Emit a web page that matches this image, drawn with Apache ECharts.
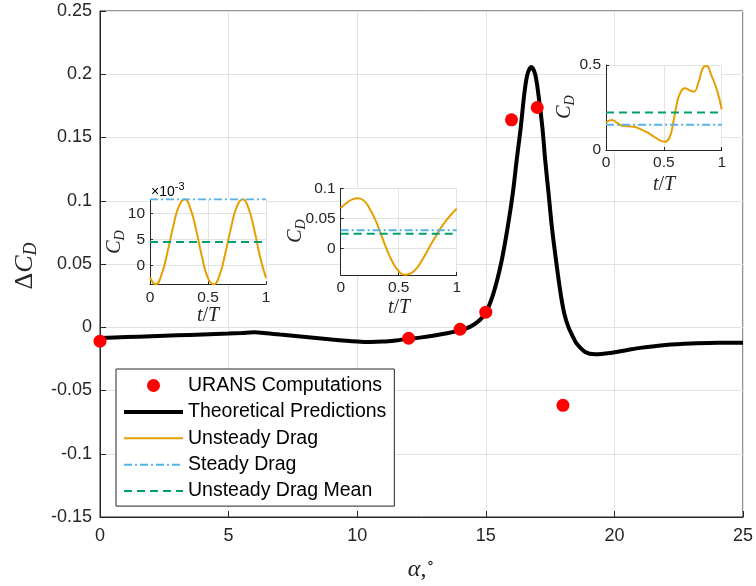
<!DOCTYPE html>
<html><head><meta charset="utf-8">
<script src="https://cdn.jsdelivr.net/npm/echarts@6/dist/echarts.min.js"></script>
<style>html,body{margin:0;padding:0;background:#fff}#c{width:756px;height:586px}</style>
</head><body><div id="c"></div>
<script>
// ---------- main chart data ----------
const uransAlpha = [0, 12, 14, 15, 16, 17, 18];
const uransDeltaCD = [-0.011, -0.0087, -0.0016, 0.0119, 0.164, 0.1737, -0.0617];

const theoryAlpha = [0, 1, 2, 3, 4, 5, 5.5, 6, 6.5, 7, 8, 9, 10, 10.5, 11, 11.5, 12, 12.5, 13, 13.5, 14, 14.4, 14.7,
  15.0, 15.3, 15.6, 15.85, 16.05, 16.2, 16.36, 16.5, 16.62, 16.77, 16.92, 17.04, 17.2, 17.31, 17.44, 17.57, 17.73,
  17.91, 18.05, 18.21, 18.4, 18.53, 18.86, 19.25, 19.83, 20.5, 21, 22, 23, 24, 25];
const theoryDeltaCD = [-0.0085, -0.0078, -0.0071, -0.0064, -0.0057, -0.005, -0.0046, -0.004, -0.0048, -0.0058, -0.0077,
  -0.0096, -0.0112, -0.0116, -0.0113, -0.0104, -0.0092, -0.008, -0.0065, -0.0047, -0.0025, 0.0005, 0.0045,
  0.0115, 0.027, 0.051, 0.079, 0.106, 0.132, 0.158, 0.185, 0.2, 0.2058, 0.2, 0.185, 0.158, 0.132, 0.106, 0.079, 0.053,
  0.0266, 0.011, 0.0003, -0.008, -0.0129, -0.0195, -0.0213, -0.0203, -0.018, -0.0163, -0.014, -0.0128, -0.0123, -0.0122];

// ---------- inset 1 (x10^-3) ----------
const inset1T = [0, 0.05, 0.1, 0.15, 0.2, 0.25, 0.3, 0.35, 0.4, 0.45, 0.5, 0.55, 0.6, 0.65, 0.7, 0.75, 0.8, 0.85, 0.9, 0.95, 1];
const inset1CD = [-0.0023, -0.0036, -0.0017, 0.0025, 0.0075, 0.0114, 0.0127, 0.0108, 0.0066, 0.0015, -0.0024, -0.0036,
  -0.0018, 0.0024, 0.0074, 0.0114, 0.0127, 0.0109, 0.0067, 0.0016, -0.0024];
const inset1Steady = 0.0127;
const inset1Mean = 0.0045;

// ---------- inset 2 ----------
const inset2T = [0, 0.05, 0.1, 0.15, 0.2, 0.25, 0.3, 0.35, 0.4, 0.45, 0.5, 0.55, 0.6, 0.65, 0.7, 0.75, 0.8, 0.85, 0.9, 0.95, 1];
const inset2CD = [0.067, 0.0755, 0.0815, 0.0835, 0.0795, 0.066, 0.047, 0.022, -0.003, -0.024, -0.038, -0.044, -0.042,
  -0.034, -0.02, -0.003, 0.014, 0.03, 0.044, 0.056, 0.066];
const inset2Steady = 0.030;
const inset2Mean = 0.0244;

// ---------- inset 3 ----------
const inset3T = [0, 0.05, 0.1, 0.15, 0.24, 0.3, 0.35, 0.4, 0.47, 0.51, 0.55, 0.58, 0.61, 0.64, 0.68, 0.73, 0.76, 0.8,
  0.84, 0.87, 0.91, 0.96, 1];
const inset3CD = [0.161, 0.176, 0.158, 0.141, 0.137, 0.122, 0.106, 0.085, 0.055, 0.049, 0.075, 0.157, 0.265, 0.333,
  0.363, 0.349, 0.343, 0.4, 0.485, 0.494, 0.44, 0.35, 0.239];
const inset3Steady = 0.149;
const inset3Mean = 0.22;

// ---------- ticks ----------
const inset1YTicks = [0, 0.005, 0.01];
const inset2YTicks = [0, 0.05, 0.1];

const INK = '#262626', GRIDC = '#e2e2e2';
const ORANGE = '#E69F00', SKY = '#56B4E9', GREEN = '#009E73';
const SANS = 'Liberation Sans, Arial, Helvetica, sans-serif';
const SERIF = 'Liberation Serif, DejaVu Serif, serif';
const DASH = [8, 5], DASHDOT = [8, 3, 2, 3];

const zip = (a, b) => a.map((v, i) => [v, b[i]]);
const hline = v => [[0, v], [1, v]];

const insetGrids = [
  {left: 150, top: 199.3, width: 116, height: 85},
  {left: 340.7, top: 188.3, width: 116, height: 86.7},
  {left: 606, top: 65, width: 115.7, height: 85}
];

function insetX(i) {
  return {gridIndex: i, type: 'value', min: 0, max: 1, interval: 0.5, z: 4,
    axisLine: {show: true, onZero: false, lineStyle: {color: INK}},
    axisTick: {show: true, inside: true, length: 3, lineStyle: {color: INK}},
    axisLabel: {fontSize: 15.5, color: INK, fontFamily: SANS, margin: 5},
    splitLine: {show: true, lineStyle: {color: GRIDC}}};
}
function insetY(i, min, max, ticks, fmt) {
  const ax = {gridIndex: i, type: 'value', min: min, max: max, z: 4,
    axisLine: {show: true, onZero: false, lineStyle: {color: INK}},
    axisTick: {show: true, inside: true, length: 3, lineStyle: {color: INK}},
    axisLabel: {fontSize: 15.5, color: INK, fontFamily: SANS, margin: 5},
    splitLine: {show: true, lineStyle: {color: GRIDC}}};
  if (ticks) {
    ax.axisLabel.customValues = ticks;
    ax.axisTick.customValues = ticks;
  } else {
    ax.interval = 0.5;
  }
  if (fmt) ax.axisLabel.formatter = fmt;
  return ax;
}

function insetSeries(i, t, cd, steady, mean) {
  return [
    {name: 'Unsteady Drag', type: 'line', xAxisIndex: i, yAxisIndex: i, data: zip(t, cd), smooth: 0.5,
      symbol: 'none', z: 6, lineStyle: {color: ORANGE, width: 2}, itemStyle: {color: ORANGE}, silent: true},
    {name: 'Steady Drag', type: 'line', xAxisIndex: i, yAxisIndex: i, data: hline(steady),
      symbol: 'none', z: 6, lineStyle: {color: SKY, width: 2, type: DASHDOT}, itemStyle: {color: SKY}, silent: true},
    {name: 'Unsteady Drag Mean', type: 'line', xAxisIndex: i, yAxisIndex: i, data: hline(mean),
      symbol: 'none', z: 6, lineStyle: {color: GREEN, width: 2, type: DASH}, itemStyle: {color: GREEN}, silent: true}
  ];
}

function txt(x, y, text, rich, rot) {
  return {type: 'text', x: x, y: y, rotation: rot || 0, z: 20,
    style: {text: text, rich: rich, align: 'center', verticalAlign: 'middle', fill: INK}};
}
const cdRich = size => ({
  c: {fontFamily: SERIF, fontStyle: 'italic', fontSize: size, lineHeight: size + 4, color: INK, verticalAlign: 'middle'},
  s: {fontFamily: SERIF, fontStyle: 'italic', fontSize: Math.round(size * 0.7), lineHeight: Math.round(size * 0.5), color: INK, verticalAlign: 'bottom'}
});
const tRich = {t: {fontFamily: SERIF, fontStyle: 'italic', fontSize: 20, color: INK},
  n: {fontFamily: SERIF, fontSize: 20, color: INK}};

const noSym = {color: 'rgba(0,0,0,0)', borderColor: 'rgba(0,0,0,0)', borderWidth: 0, opacity: 0};

const chart = echarts.init(document.getElementById('c'), null, {renderer: 'canvas'});
chart.setOption({
  animation: false,
  backgroundColor: '#fff',
  grid: [
    {left: 100, top: 11, width: 643, height: 506, show: true, borderColor: INK, borderWidth: 1, backgroundColor: 'transparent', z: 0},
    ...insetGrids.map(g => Object.assign({show: true, backgroundColor: '#fff', borderWidth: 0, z: 3}, g))
  ],
  xAxis: [
    {gridIndex: 0, type: 'value', min: 0, max: 25, interval: 5,
      axisLine: {show: true, onZero: false, lineStyle: {color: INK}},
      axisTick: {show: true, inside: true, length: 6, lineStyle: {color: INK}},
      axisLabel: {fontSize: 18, color: INK, fontFamily: SANS, margin: 10},
      splitLine: {show: true, lineStyle: {color: GRIDC}}},
    insetX(1), insetX(2), insetX(3)
  ],
  yAxis: [
    {gridIndex: 0, type: 'value', min: -0.15, max: 0.25, interval: 0.05,
      axisLine: {show: true, onZero: false, lineStyle: {color: INK}},
      axisTick: {show: true, inside: true, length: 6, lineStyle: {color: INK}},
      axisLabel: {fontSize: 18, color: INK, fontFamily: SANS, margin: 8},
      splitLine: {show: true, lineStyle: {color: GRIDC}}},
    insetY(1, -0.0036, 0.0127, inset1YTicks, v => String(Math.round(v * 1000))),
    insetY(2, -0.0443, 0.1, inset2YTicks),
    insetY(3, 0, 0.5, null)
  ],
  legend: {
    show: true, orient: 'vertical', left: 116, top: 369, selectedMode: false,
    padding: [6.5, 8, 5, 6], itemWidth: 59, itemHeight: 13, itemGap: 6.4,
    backgroundColor: '#fff', borderColor: INK, borderWidth: 1, z: 10,
    textStyle: {fontSize: 19.5, fontFamily: SANS, color: '#000', lineHeight: 19.2},
    lineStyle: {width: 'inherit'},
    data: [
      {name: 'URANS Computations', icon: 'circle'},
      {name: 'Theoretical Predictions', itemStyle: noSym},
      {name: 'Unsteady Drag', itemStyle: noSym},
      {name: 'Steady Drag', itemStyle: noSym},
      {name: 'Unsteady Drag Mean', itemStyle: noSym}
    ]
  },
  series: [
    {name: 'URANS Computations', type: 'scatter', xAxisIndex: 0, yAxisIndex: 0, data: zip(uransAlpha, uransDeltaCD),
      symbol: 'circle', symbolSize: 13, z: 3, itemStyle: {color: '#ff0000', opacity: 1}, silent: true},
    {name: 'Theoretical Predictions', type: 'line', xAxisIndex: 0, yAxisIndex: 0, data: zip(theoryAlpha, theoryDeltaCD),
      smooth: 0.3, symbol: 'none', z: 2, lineStyle: {color: '#000', width: 4}, itemStyle: {color: '#000'}, silent: true},
    ...insetSeries(1, inset1T, inset1CD, inset1Steady, inset1Mean),
    ...insetSeries(2, inset2T, inset2CD, inset2Steady, inset2Mean),
    ...insetSeries(3, inset3T, inset3CD, inset3Steady, inset3Mean)
  ],
  graphic: [
    txt(25, 266, '{d|Δ}{c|C}{s|D}', Object.assign({d: {fontFamily: SERIF, fontSize: 26, lineHeight: 30, color: INK, verticalAlign: 'middle'}}, cdRich(26)), Math.PI / 2),
    txt(421, 570, '{a|α}{b|,}{o|∘}', {
      a: {fontFamily: SERIF, fontStyle: 'italic', fontSize: 24, lineHeight: 28, color: INK, verticalAlign: 'middle'},
      b: {fontFamily: SERIF, fontSize: 24, lineHeight: 28, color: INK, verticalAlign: 'middle'},
      o: {fontFamily: SERIF, fontSize: 16, lineHeight: 12, color: INK, verticalAlign: 'top'}}),
    txt(115, 242, '{c|C}{s|D}', cdRich(20), Math.PI / 2),
    txt(296, 231, '{c|C}{s|D}', cdRich(20), Math.PI / 2),
    txt(565, 107, '{c|C}{s|D}', cdRich(20), Math.PI / 2),
    txt(208, 316, '{t|t}{n|/}{t|T}', tRich),
    txt(399, 308, '{t|t}{n|/}{t|T}', tRich),
    txt(664, 185, '{t|t}{n|/}{t|T}', tRich),
    {type: 'text', x: 151, y: 190, z: 20, style: {text: '{a|×10}{b|-3}', verticalAlign: 'middle', rich: {
      a: {fontFamily: SANS, fontSize: 14, lineHeight: 18, color: INK, verticalAlign: 'bottom'},
      b: {fontFamily: SANS, fontSize: 11, lineHeight: 10, color: INK, verticalAlign: 'top'}}}}
  ]
});
</script>
</body></html>
